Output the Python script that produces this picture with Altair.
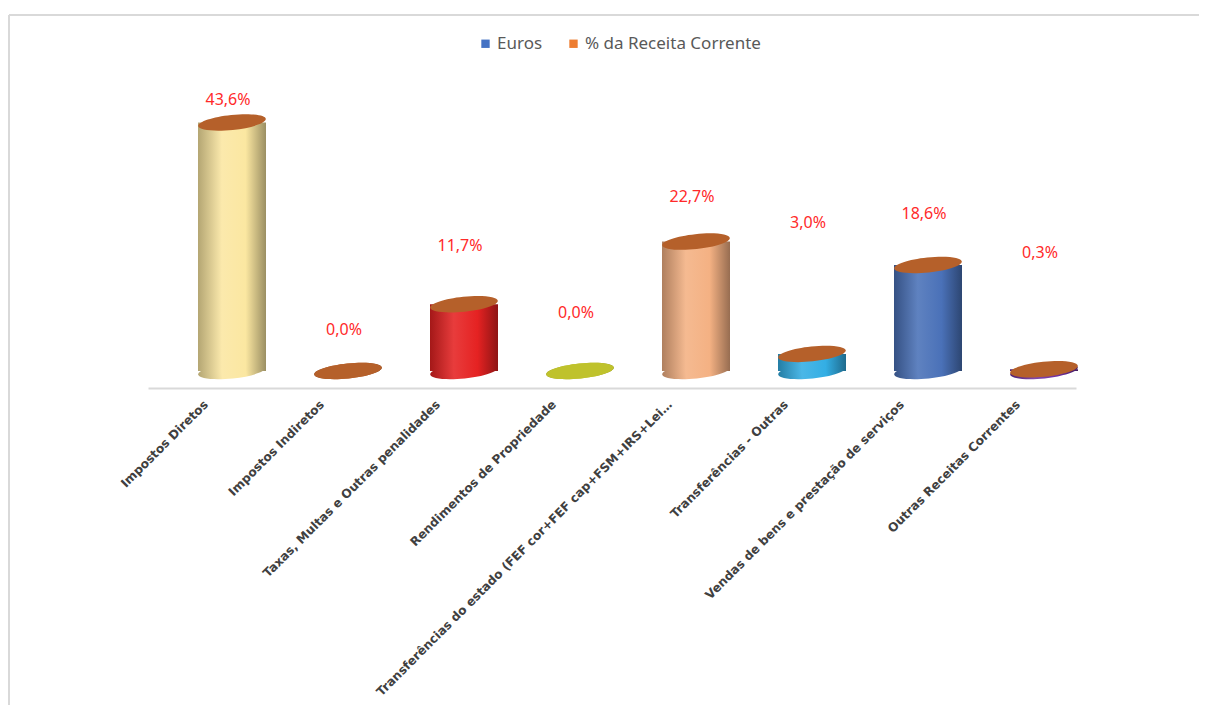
import altair as alt
import pandas as pd

categories = [
    "Impostos Diretos",
    "Impostos Indiretos",
    "Taxas, Multas e Outras penalidades",
    "Rendimentos de Propriedade",
    "Transferências do estado (FEF cor+FEF cap+FSM+IRS+Lei…",
    "Transferências - Outras",
    "Vendas de bens e prestação de serviços",
    "Outras Receitas Correntes",
]
pct_values = [43.6, 0.0, 11.7, 0.0, 22.7, 3.0, 18.6, 0.3]
pct_labels = ["43,6%", "0,0%", "11,7%", "0,0%", "22,7%", "3,0%", "18,6%", "0,3%"]
label_heights = [47.6, 7.2, 22.0, 10.2, 30.6, 26.0, 27.6, 20.7]
body_colors = ["#FBE7A1", "#C0622B", "#E52222", "#BFC22C", "#F4B183", "#33AEE4", "#4A71B8", "#7030A0"]
cap_colors = ["#B5602A", "#B5602A", "#B5602A", "#BFC22C", "#B5602A", "#B5602A", "#B5602A", "#B5602A"]
legend_names = ["Euros", "% da Receita Corrente"]
legend_colors = ["#4472C4", "#ED7D31"]

df = pd.DataFrame({
    "cat": categories,
    "pct": pct_values,
    "lbl": pct_labels,
    "lpos": label_heights,
    "cap": cap_colors,
})
leg_df = pd.DataFrame({"series": legend_names, "cat": [categories[0]] * 2, "pct": [0.0, 0.0]})


def shade(hexc, f):
    h = hexc.lstrip("#")
    r, g, b = (int(h[i:i + 2], 16) for i in (0, 2, 4))
    if f < 1:
        r, g, b = (int(c * f) for c in (r, g, b))
    else:
        r, g, b = (int(c + (255 - c) * (f - 1)) for c in (r, g, b))
    return "#%02x%02x%02x" % (r, g, b)


def grad(c):
    return alt.Gradient(
        gradient="linear",
        stops=[
            alt.GradientStop(color=shade(c, 0.72), offset=0),
            alt.GradientStop(color=shade(c, 1.12), offset=0.35),
            alt.GradientStop(color=c, offset=0.7),
            alt.GradientStop(color=shade(c, 0.62), offset=1),
        ],
        x1=0, x2=1, y1=0, y2=0,
    )


ELLIPSE = "M-1,0A1,0.22,0,1,1,1,0A1,0.22,0,1,1,-1,0Z"
BW = 68
SHIFT = 26

xenc = alt.X(
    "cat:N",
    sort=categories,
    scale=alt.Scale(domain=categories),
    axis=alt.Axis(
        title=None,
        labelAngle=-45,
        labelAlign="right",
        labelBaseline="middle",
        labelOffset=0,
        labelPadding=14,
        labelFont="DejaVu Sans",
        labelFontWeight="bold",
        labelFontSize=12.2,
        labelColor="#404040",
        labelLimit=0,
        labelOverlap=False,
        ticks=False,
        domainColor="#D9D9D9",
        domainWidth=2,
        offset=17,
    ),
)
yscale = alt.Scale(domain=[0, 50], nice=False, zero=True)
yenc = alt.Y("pct:Q", scale=yscale, axis=None)

layers = []
for i, c in enumerate(categories):
    sub = alt.Chart(df).transform_filter(alt.datum.cat == c)
    bottom = sub.mark_point(shape=ELLIPSE, size=BW * BW, filled=True, opacity=1, xOffset=SHIFT,
                            color=grad(body_colors[i]), angle=354).encode(
        x=xenc, y=alt.Y("zero:Q", scale=yscale, axis=None)
    ).transform_calculate(zero="0")
    body = sub.mark_bar(width=BW, xOffset=SHIFT, color=grad(body_colors[i])).encode(
        x=xenc, y=yenc, y2=alt.Y2("zero:Q")
    ).transform_calculate(zero="0")
    layers += [bottom, body]

caps = alt.Chart(df).mark_point(shape=ELLIPSE, size=BW * BW, filled=True, opacity=1, angle=354,
                                xOffset=SHIFT).encode(
    x=xenc, y=yenc, color=alt.Color("cap:N", scale=None)
)
labels = alt.Chart(df).mark_text(font="Noto Sans", fontSize=16, color="#FF2A2A", xOffset=22).encode(
    x=xenc, y=alt.Y("lpos:Q", scale=yscale, axis=None), text="lbl:N"
)
legend_layer = alt.Chart(leg_df).mark_square(opacity=0).encode(
    x=xenc, y=yenc,
    color=alt.Color(
        "series:N",
        scale=alt.Scale(domain=legend_names, range=legend_colors),
        sort=legend_names,
        legend=alt.Legend(
            title=None,
            orient="none",
            direction="horizontal",
            legendX=329,
            legendY=-51,
            symbolType="square",
            symbolSize=70,
            symbolOpacity=1,
            labelFont="Noto Sans",
            labelFontSize=17,
            labelColor="#595959",
            labelOffset=3,
            labelLimit=0,
            columnPadding=22,
            symbolStrokeWidth=0,
        ),
    ),
)
frame_top = alt.Chart(leg_df).mark_rule(color="#D9D9D9", strokeWidth=2).encode(
    x=alt.value(-139), x2=alt.value(1060), y=alt.value(-71)
)
frame_left = alt.Chart(leg_df).mark_rule(color="#D9D9D9", strokeWidth=2).encode(
    x=alt.value(-139), y=alt.value(-71), y2=alt.value(640)
)

chart = alt.layer(frame_top, frame_left, *layers, caps, labels, legend_layer).properties(
    width=928,
    height=285,
    background="white",
    autosize=alt.AutoSizeParams(type="none"),
    padding={"left": 140, "top": 78, "right": 123, "bottom": 334},
).configure_view(strokeWidth=0, stroke="transparent")

chart.save("out.html", embed_options={"renderer": "svg", "actions": False})
